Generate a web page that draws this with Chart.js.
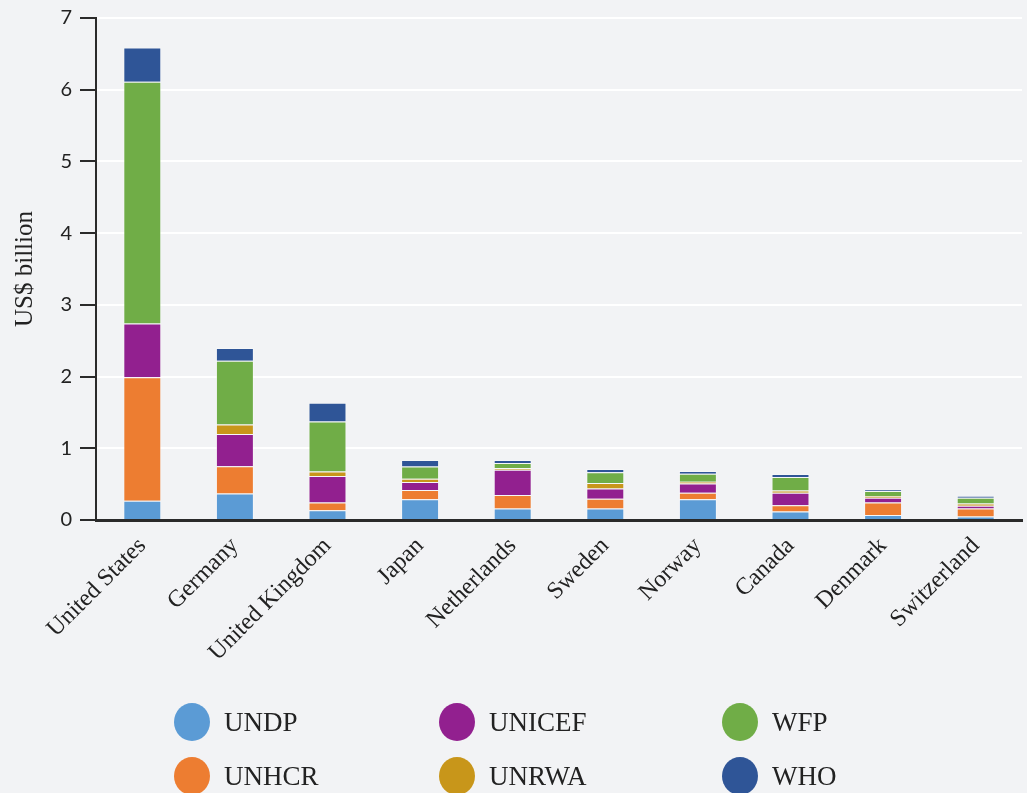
<!DOCTYPE html>
<html>
<head>
<meta charset="utf-8">
<script src="https://cdn.jsdelivr.net/npm/chart.js@4/dist/chart.umd.min.js"></script>
<style>
  html, body { margin: 0; padding: 0; background: #f2f3f5; }
  #wrap { position: relative; width: 1027px; height: 793px; overflow: hidden; }
  #c { position: absolute; left: 0; top: 0; }
  #legend { position: absolute; left: 0; top: 0; width: 1027px; height: 793px; pointer-events: none; }
  .item { position: absolute; display: flex; align-items: center; font-family: "Liberation Serif", serif; font-size: 27px; color: #222; }
  .dot { width: 36px; height: 38px; border-radius: 50%; margin-right: 14px; }
</style>
</head>
<body>
<div id="wrap">
  <canvas id="c" width="1027" height="690"></canvas>
  <div id="legend"></div>
</div>
<script>
const categories = ["United States", "Germany", "United Kingdom", "Japan", "Netherlands", "Sweden", "Norway", "Canada", "Denmark", "Switzerland"];
const UNDP   = [0.27, 0.37, 0.135, 0.29, 0.16, 0.16, 0.29, 0.12, 0.07, 0.05];
const UNHCR  = [1.72, 0.38, 0.11, 0.13, 0.19, 0.135, 0.09, 0.085, 0.175, 0.11];
const UNICEF = [0.75, 0.45, 0.37, 0.11, 0.35, 0.145, 0.13, 0.175, 0.065, 0.04];
const UNRWA  = [0.00, 0.13, 0.06, 0.045, 0.025, 0.075, 0.025, 0.03, 0.025, 0.03];
const WFP    = [3.37, 0.89, 0.70, 0.17, 0.07, 0.15, 0.11, 0.19, 0.07, 0.08];
const WHO    = [0.48, 0.18, 0.26, 0.09, 0.04, 0.045, 0.04, 0.04, 0.02, 0.025];
const yTicks = [0, 1, 2, 3, 4, 5, 6, 7];

const seriesNames = ["UNDP", "UNHCR", "UNICEF", "UNRWA", "WFP", "WHO"];
const seriesData = [UNDP, UNHCR, UNICEF, UNRWA, WFP, WHO];
const colors = ["#5b9bd5", "#ed7d31", "#92208f", "#c8961a", "#70ad47", "#2f5597"];

const datasets = seriesNames.map((n, i) => ({
  label: n,
  data: seriesData[i],
  backgroundColor: colors[i],
  borderColor: "rgba(255,255,255,0.35)",
  borderWidth: 1,
  stack: "s",
  categoryPercentage: 1.0,
  barPercentage: 0.41
}));

new Chart(document.getElementById("c"), {
  type: "bar",
  data: { labels: categories, datasets },
  options: {
    responsive: false,
    animation: false,
    layout: { padding: { top: 17, right: 5, left: 0, bottom: 0 } },
    plugins: { legend: { display: false }, tooltip: { enabled: false } },
    scales: {
      x: {
        stacked: true,
        grid: { display: false },
        border: { display: true, color: "#2a2a2a", width: 3 },
        ticks: {
          color: "#222",
          font: { family: "Liberation Serif", size: 24 },
          minRotation: 45, maxRotation: 45, padding: 4
        },
        afterFit: (s) => { s.height = 170; }
      },
      y: {
        stacked: true,
        min: 0, max: 7,
        afterBuildTicks: (s) => { s.ticks = yTicks.map(v => ({ value: v })); },
        grid: { color: "#ffffff", lineWidth: 2, drawTicks: true, tickLength: 16, tickColor: "#2a2a2a" },
        border: { display: true, color: "#2a2a2a", width: 2 },
        ticks: {
          color: "#222",
          font: { family: "Lato", size: 20, lineHeight: 1 },
          padding: 8
        },
        title: {
          display: true, text: "US$ billion",
          color: "#222",
          font: { family: "Liberation Serif", size: 25 },
          padding: { top: 10, bottom: 8 }
        },
        afterFit: (s) => { s.width = 96; }
      }
    }
  }
});

// HTML legend, 3 columns x 2 rows (column-major order)
const legend = document.getElementById("legend");
const colX = [174, 439, 722];
const rowY = [703, 757];
seriesNames.forEach((n, i) => {
  const col = Math.floor(i / 2), row = i % 2;
  const d = document.createElement("div");
  d.className = "item";
  d.style.left = colX[col] + "px";
  d.style.top = rowY[row] + "px";
  d.innerHTML = '<span class="dot" style="background:' + colors[i] + '"></span><span>' + n + '</span>';
  legend.appendChild(d);
});
</script>
</body>
</html>
